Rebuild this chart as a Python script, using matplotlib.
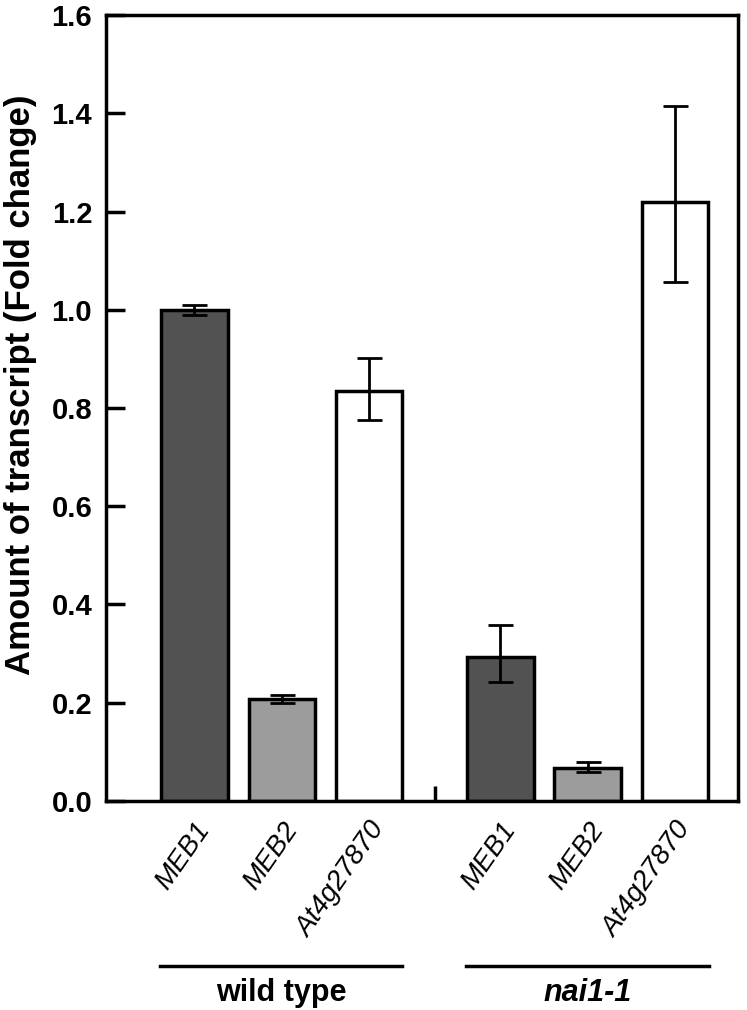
import numpy as np
import matplotlib.pyplot as plt
from matplotlib.transforms import blended_transform_factory

plt.rcParams['font.family'] = ['Liberation Sans', 'DejaVu Sans']

genes = ['MEB1', 'MEB2', 'At4g27870']
groups = ['wild type', 'nai1-1']
x_pos = [0, 1, 2, 3.5, 4.5, 5.5]
values = [1.0, 0.208, 0.835, 0.294, 0.068, 1.22]
err_low = [0.01, 0.008, 0.06, 0.052, 0.01, 0.163]
err_high = [0.01, 0.008, 0.066, 0.064, 0.012, 0.195]
colors = ['#525252', '#9c9c9c', '#ffffff'] * 2

fig = plt.figure(figsize=(7.47, 10.1), dpi=100)
ax = fig.add_axes([0.142, 0.207, 0.846, 0.778])

ax.bar(x_pos, values, width=0.76, color=colors, edgecolor='black', linewidth=2.5, zorder=2)
ax.errorbar(x_pos, values, yerr=[err_low, err_high], fmt='none', ecolor='black',
            elinewidth=2, capsize=9, capthick=2, zorder=3)

ax.set_xlim(-1.01, 6.22)
ax.set_ylim(0, 1.6)
ax.set_yticks(np.arange(0, 1.61, 0.2))
ax.set_yticklabels(['%.1f' % v for v in np.arange(0, 1.61, 0.2)], fontsize=21, fontweight='bold')
ax.tick_params(axis='y', direction='in', length=14, width=2.5, pad=10)

ax.set_xticks(x_pos)
ax.set_xticklabels(genes * 2, rotation=55, ha='right', rotation_mode='anchor',
                   fontsize=20, style='italic')
ax.tick_params(axis='x', length=0, pad=12)
ax.set_xticks([2.75], minor=True)
ax.tick_params(axis='x', which='minor', direction='in', length=11, width=2.5)

for s in ax.spines.values():
    s.set_linewidth(2.5)

ax.set_ylabel('Amount of transcript (Fold change)', fontsize=25, fontweight='bold')
ax.yaxis.set_label_coords(-0.11, 0.53)

trans = blended_transform_factory(ax.transData, ax.transAxes)
spans = [(-0.39, 2.38), (3.11, 5.89)]
for (a, b), g, st in zip(spans, groups, ['normal', 'italic']):
    ax.plot([a, b], [-0.21, -0.21], color='black', lw=2.5, transform=trans, clip_on=False)
    ax.text((a + b) / 2, -0.245, g, transform=trans, ha='center', va='center',
            fontsize=22, fontweight='bold', style=st)

plt.savefig('out.png', dpi=100)
